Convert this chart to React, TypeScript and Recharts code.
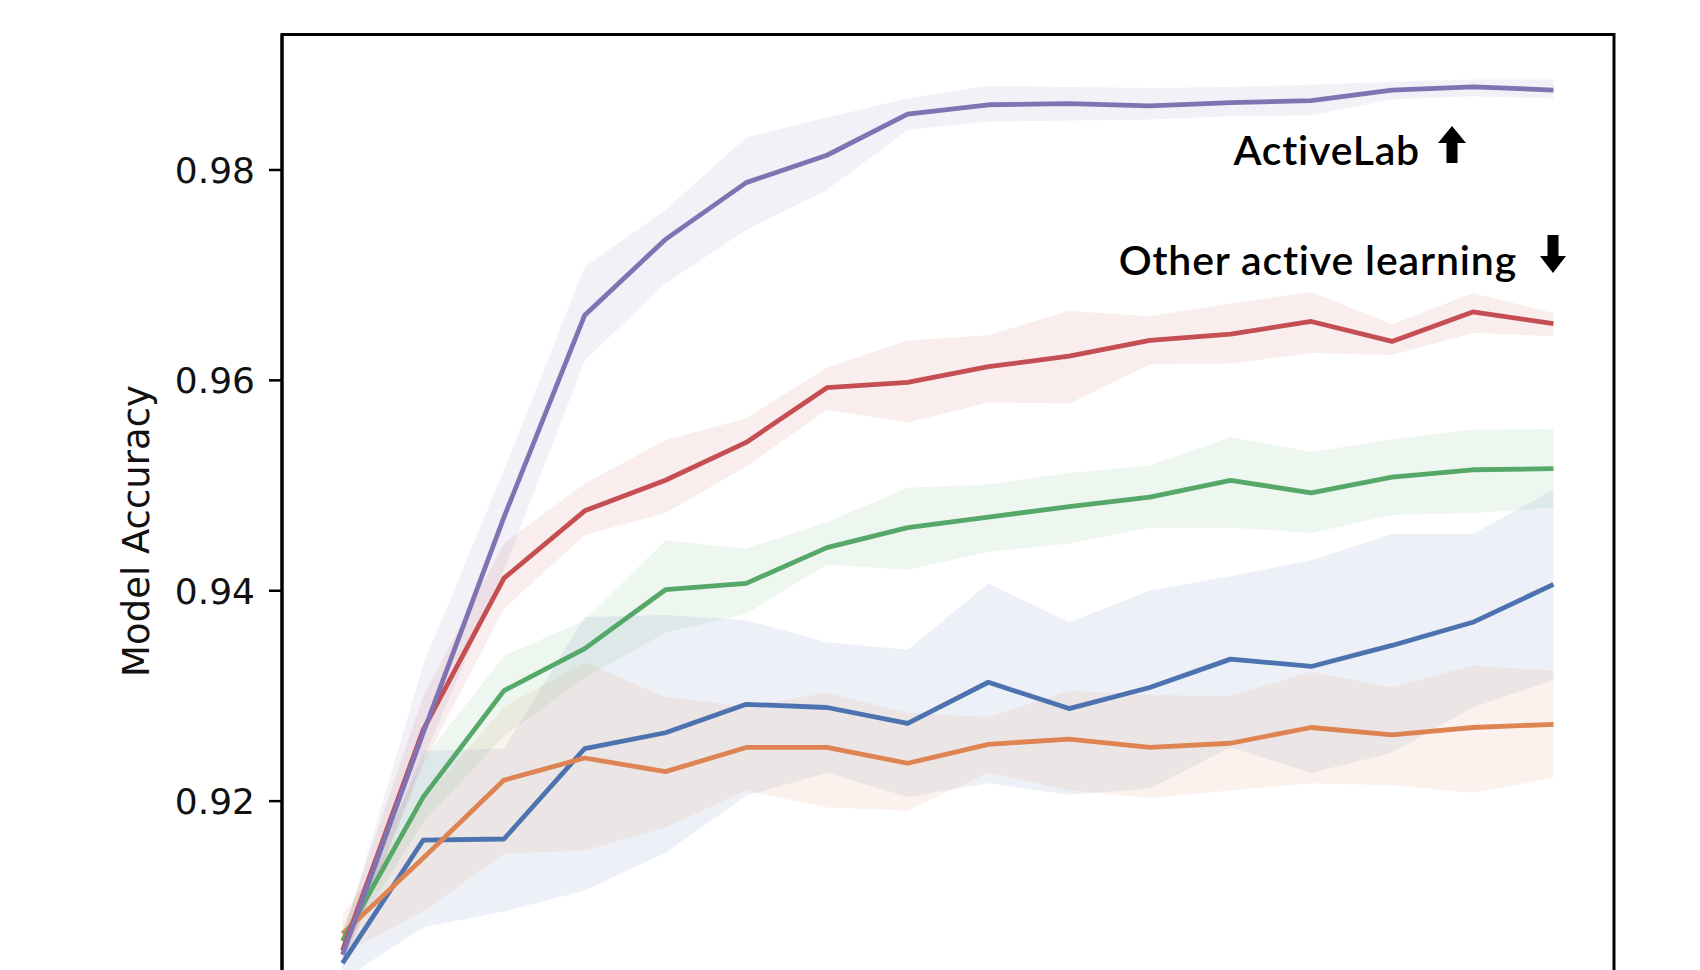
import React from "react";
import { ComposedChart, Line, Area, XAxis, YAxis, ReferenceArea } from "recharts";

// query rounds (x axis is cropped off in the reference)
const rounds = [0, 1, 2, 3, 4, 5, 6, 7, 8, 9, 10, 11, 12, 13, 14, 15];

const blueMean = [0.9046, 0.9163, 0.9164, 0.925, 0.9265, 0.9292, 0.9289, 0.9274, 0.9313, 0.9288, 0.9308, 0.9335, 0.9328, 0.9348, 0.937, 0.9406];
const blueLow = [0.903, 0.908, 0.9095, 0.9115, 0.9151, 0.9205, 0.9227, 0.9204, 0.9217, 0.9206, 0.9212, 0.9251, 0.9227, 0.9246, 0.9289, 0.9315];
const blueHigh = [0.9062, 0.9248, 0.925, 0.9375, 0.9377, 0.9372, 0.9351, 0.9344, 0.9407, 0.937, 0.94, 0.9414, 0.9429, 0.9454, 0.9454, 0.9496];

const orangeMean = [0.9074, 0.9146, 0.922, 0.9241, 0.9228, 0.9251, 0.9251, 0.9236, 0.9254, 0.9259, 0.9251, 0.9255, 0.927, 0.9263, 0.927, 0.9273];
const orangeLow = [0.9055, 0.9095, 0.915, 0.9153, 0.9175, 0.921, 0.9194, 0.9191, 0.9227, 0.921, 0.9203, 0.921, 0.9217, 0.9215, 0.9208, 0.9222];
const orangeHigh = [0.9092, 0.92, 0.929, 0.9332, 0.9299, 0.929, 0.9303, 0.9284, 0.928, 0.9305, 0.9301, 0.93, 0.9323, 0.9308, 0.9329, 0.9324];

const greenMean = [0.9067, 0.9204, 0.9305, 0.9345, 0.9401, 0.9407, 0.9441, 0.946, 0.947, 0.948, 0.9489, 0.9505, 0.9493, 0.9508, 0.9515, 0.9516];
const greenLow = [0.9058, 0.918, 0.9262, 0.9317, 0.936, 0.9378, 0.9425, 0.942, 0.9437, 0.9445, 0.946, 0.946, 0.9455, 0.9472, 0.9474, 0.9479];
const greenHigh = [0.908, 0.924, 0.9338, 0.9372, 0.9448, 0.944, 0.9465, 0.9498, 0.9501, 0.9512, 0.9519, 0.9546, 0.9532, 0.9544, 0.9553, 0.9554];

const redMean = [0.9058, 0.9268, 0.9412, 0.9476, 0.9505, 0.9541, 0.9593, 0.9598, 0.9613, 0.9623, 0.9638, 0.9644, 0.9656, 0.9637, 0.9665, 0.9654];
const redLow = [0.9045, 0.9235, 0.9383, 0.9453, 0.9474, 0.9518, 0.9572, 0.956, 0.9579, 0.9578, 0.9615, 0.9616, 0.9626, 0.9624, 0.9645, 0.9642];
const redHigh = [0.9075, 0.93, 0.9445, 0.9502, 0.9543, 0.9564, 0.9612, 0.9638, 0.9643, 0.9666, 0.9661, 0.9673, 0.9684, 0.9653, 0.9683, 0.9664];

const purpleMean = [0.9054, 0.9265, 0.947, 0.9662, 0.9734, 0.9788, 0.9814, 0.9853, 0.9862, 0.9863, 0.9861, 0.9864, 0.9866, 0.9876, 0.9879, 0.9876];
const purpleLow = [0.904, 0.924, 0.942, 0.9619, 0.9692, 0.9743, 0.9781, 0.9838, 0.9846, 0.9847, 0.9848, 0.9851, 0.9852, 0.9867, 0.987, 0.9868];
const purpleHigh = [0.907, 0.933, 0.9515, 0.9708, 0.9762, 0.9831, 0.985, 0.9868, 0.988, 0.9879, 0.9878, 0.9879, 0.9881, 0.9884, 0.9886, 0.9886];

const yTicks = [0.92, 0.94, 0.96, 0.98];

const series = [
  { key: "blue", color: "#4c72b0", mean: blueMean, low: blueLow, high: blueHigh },
  { key: "orange", color: "#dd8452", mean: orangeMean, low: orangeLow, high: orangeHigh },
  { key: "green", color: "#55a868", mean: greenMean, low: greenLow, high: greenHigh },
  { key: "red", color: "#c44e52", mean: redMean, low: redLow, high: redHigh },
  { key: "purple", color: "#8172b3", mean: purpleMean, low: purpleLow, high: purpleHigh },
];

const data = rounds.map((r, i) => {
  const row: any = { round: r };
  series.forEach((s) => {
    row[s.key] = s.mean[i];
    row[s.key + "Band"] = [s.low[i], s.high[i]];
  });
  return row;
});

const X_DOMAIN: [number, number] = [-0.75, 15.75];
const Y_DOMAIN: [number, number] = [0.9, 0.99288];

function UpArrow({ cx, top, bottom }: { cx: number; top: number; bottom: number }) {
  const head = 17;
  const hw = 14;
  const sw = 5.5;
  const pts = [
    [cx, top],
    [cx + hw, top + head],
    [cx + sw, top + head],
    [cx + sw, bottom],
    [cx - sw, bottom],
    [cx - sw, top + head],
    [cx - hw, top + head],
  ];
  return <polygon points={pts.map((p) => p.join(",")).join(" ")} fill="#000" />;
}

function DownArrow({ cx, top, bottom }: { cx: number; top: number; bottom: number }) {
  const head = 17;
  const hw = 13;
  const sw = 5.5;
  const pts = [
    [cx, bottom],
    [cx + hw, bottom - head],
    [cx + sw, bottom - head],
    [cx + sw, top],
    [cx - sw, top],
    [cx - sw, bottom - head],
    [cx - hw, bottom - head],
  ];
  return <polygon points={pts.map((p) => p.join(",")).join(" ")} fill="#000" />;
}

export default function App() {
  return (
    <div
      style={{
        position: "fixed",
        left: 0,
        top: 0,
        width: 1700,
        height: 970,
        overflow: "hidden",
        background: "#fff",
      }}
    >
      <ComposedChart
        width={1700}
        height={1012}
        data={data}
        margin={{ top: 34.5, right: 86, bottom: 0.5, left: 0 }}
      >
        <XAxis dataKey="round" type="number" domain={X_DOMAIN} allowDataOverflow hide />
        <YAxis
          type="number"
          domain={Y_DOMAIN}
          allowDataOverflow
          ticks={yTicks}
          width={282}
          tickSize={13}
          tickMargin={14}
          tickFormatter={(v: number) => v.toFixed(2)}
          tick={{ fontSize: 36, fill: "#111", fontFamily: "DejaVu Sans" }}
          tickLine={{ stroke: "#000", strokeWidth: 2.5 }}
          axisLine={{ stroke: "#000", strokeWidth: 3 }}
        />
        {series.map((s) => (
          <Area
            key={s.key + "Band"}
            dataKey={s.key + "Band"}
            type="linear"
            stroke="none"
            fill={s.color}
            fillOpacity={0.1}
            dot={false}
            activeDot={false}
            isAnimationActive={false}
          />
        ))}
        {series.map((s) => (
          <Line
            key={s.key}
            dataKey={s.key}
            type="linear"
            stroke={s.color}
            strokeWidth={4.8}
            strokeLinejoin="round"
            dot={false}
            activeDot={false}
            isAnimationActive={false}
          />
        ))}
        <ReferenceArea
          x1={X_DOMAIN[0]}
          x2={X_DOMAIN[1]}
          y1={Y_DOMAIN[0]}
          y2={Y_DOMAIN[1]}
          ifOverflow="visible"
          fill="none"
          stroke="#000"
          strokeWidth={3}
        />
      </ComposedChart>
      <svg
        width={1700}
        height={970}
        style={{ position: "absolute", left: 0, top: 0, pointerEvents: "none" }}
      >
        <text
          transform="translate(149,531) rotate(-90)"
          textAnchor="middle"
          fontFamily="DejaVu Sans"
          fontSize={37}
          fill="#111"
        >
          Model Accuracy
        </text>
        <text
          x={1420}
          y={165}
          textAnchor="end"
          fontFamily="Lato"
          fontWeight={600}
          fontSize={41}
          letterSpacing={0.8}
          fill="#000"
        >
          ActiveLab
        </text>
        <UpArrow cx={1452} top={126} bottom={163} />
        <text
          x={1517}
          y={275}
          textAnchor="end"
          fontFamily="Lato"
          fontWeight={600}
          fontSize={41}
          letterSpacing={0.85}
          fill="#000"
        >
          Other active learning
        </text>
        <DownArrow cx={1553} top={235} bottom={273} />
      </svg>
    </div>
  );
}
